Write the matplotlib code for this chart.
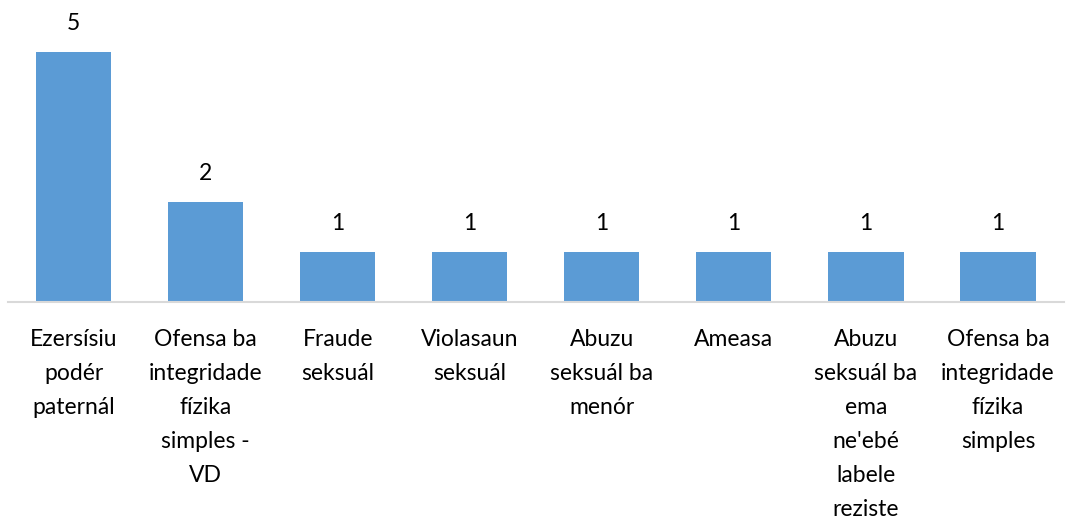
import matplotlib
matplotlib.use("Agg")
import matplotlib.pyplot as plt

categories = [
    "Ezersísiu\npodér\npaternál",
    "Ofensa ba\nintegridade\nfízika\nsimples -\nVD",
    "Fraude\nseksuál",
    "Violasaun\nseksuál",
    "Abuzu\nseksuál ba\nmenór",
    "Ameasa",
    "Abuzu\nseksuál ba\nema\nne'ebé\nlabele\nreziste",
    "Ofensa ba\nintegridade\nfízika\nsimples",
]
values = [5, 2, 1, 1, 1, 1, 1, 1]

plt.rcParams['font.family'] = ['Lato', 'DejaVu Sans']
W, H = 1069, 522
fig = plt.figure(figsize=(W / 100, H / 100), dpi=100)
ax = fig.add_axes([7.5 / W, (H - 302) / H, (1064 - 7.5) / W, 300 / H])

x = list(range(len(values)))
bars = ax.bar(x, values, width=0.57, color="#5B9BD5", zorder=2)
ax.set_xlim(-0.5, len(values) - 0.5)
ax.set_ylim(0, 6)

for xi, v in zip(x, values):
    ax.annotate(str(v), (xi, v), xytext=(0, 18), textcoords="offset pixels",
                ha="center", va="bottom", fontsize=16.5, color="#000000")

for xi, lab in zip(x, categories):
    ax.annotate(lab, (xi, 0), xytext=(0, -27), textcoords="offset pixels",
                ha="center", va="top", fontsize=16.5, color="#000000",
                linespacing=1.76, annotation_clip=False)

for s in ["top", "right", "left"]:
    ax.spines[s].set_visible(False)
ax.spines["bottom"].set_color("#D9D9D9")
ax.spines["bottom"].set_linewidth(1.5)
ax.set_xticks([])
ax.set_yticks([])

fig.savefig("out.png", dpi=100)
